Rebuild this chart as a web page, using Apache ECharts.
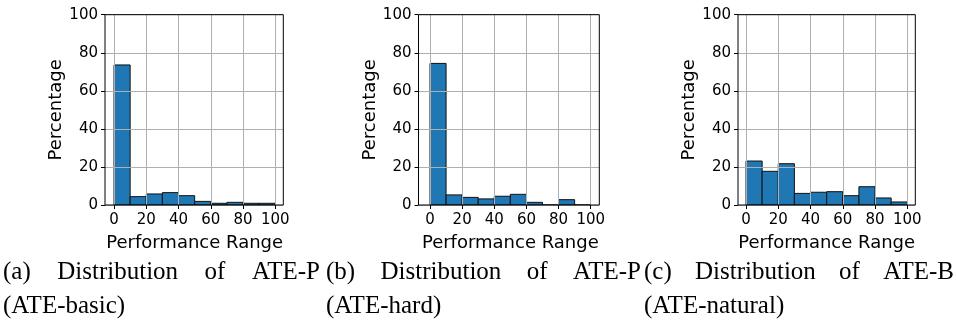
<!DOCTYPE html>
<html>
<head>
<meta charset="utf-8">
<script src="https://cdn.jsdelivr.net/npm/echarts@6/dist/echarts.min.js"></script>
<style>
  html, body { margin: 0; padding: 0; background: #fff; }
  #chart { width: 956px; height: 328px; }
</style>
</head>
<body>
<div id="chart"></div>
<script>
// Histogram bins (performance range, %) and share of samples per bin (%)
const binEdges = [0, 10, 20, 30, 40, 50, 60, 70, 80, 90, 100];
const basicPct = [73.6, 4.4, 5.8, 6.5, 4.9, 1.9, 0.9, 1.4, 0.9, 0.9];
const hardPct = [74.4, 5.3, 4.0, 3.2, 4.6, 5.6, 1.4, 0, 2.8, 0];
const naturalPct = [23.1, 17.7, 21.7, 6.1, 6.7, 7.0, 4.9, 9.6, 3.7, 1.6];

const tickValues = [0, 20, 40, 60, 80, 100];
const xTitle = 'Performance Range';
const yTitle = 'Percentage';

const captions = [
  { head: ['(a)', 'Distribution', 'of', 'ATE-P'], tail: '(ATE-basic)' },
  { head: ['(b)', 'Distribution', 'of', 'ATE-P'], tail: '(ATE-hard)' },
  { head: ['(c)', 'Distribution', 'of', 'ATE-B'], tail: '(ATE-natural)' }
];
const panelData = [basicPct, hardPct, naturalPct];

// Panel layout in pixels: frame edges and the pixel span of data 0..100
const panels = [
  { frameL: 105, frameR: 283.3, dataL: 114, dataR: 275.3, capL: 3, capR: 320 },
  { frameL: 418.5, frameR: 599.3, dataL: 430, dataR: 590.7, capL: 326, capR: 641 },
  { frameL: 738, frameR: 915.3, dataL: 746, dataR: 907.3, capL: 644, capR: 954 }
];
const plotTop = 14.7, plotH = 190.3;

const sansFont = 'DejaVu Sans';
const serifFont = 'Liberation Serif';
const capSize = 25;
const gridColor = '#b0b0b0';
const barColor = '#1f77b4';

const grid = [], xAxis = [], yAxis = [], series = [], graphic = [];

panels.forEach((p, k) => {
  // frame grid: border + y axis with horizontal grid lines
  grid.push({
    left: p.frameL, top: plotTop, width: p.frameR - p.frameL, height: plotH,
    show: true, borderColor: '#000', borderWidth: 1, backgroundColor: 'transparent', z: 10
  });
  // data grid: x from 0 to 100
  grid.push({
    left: p.dataL, top: plotTop, width: p.dataR - p.dataL, height: plotH, show: false
  });
  const gA = 2 * k, gB = 2 * k + 1;

  xAxis.push({ gridIndex: gA, type: 'value', min: 0, max: 1, show: false });
  yAxis.push({
    gridIndex: gA, type: 'value', min: 0, max: 100, interval: 20, z: 3,
    axisLine: { show: false },
    axisTick: { show: true, length: 4, lineStyle: { color: '#000', width: 1 } },
    axisLabel: { fontFamily: sansFont, fontSize: 15, color: '#000', margin: 7 },
    splitLine: { show: true, lineStyle: { color: gridColor, width: 1 } },
    name: yTitle, nameLocation: 'middle', nameGap: 38,
    nameTextStyle: { fontFamily: sansFont, fontSize: 18, color: '#000' }
  });

  xAxis.push({
    gridIndex: gB, type: 'value', min: 0, max: 100, interval: 20, z: 3,
    axisLine: { show: false },
    axisTick: { show: true, length: 4, lineStyle: { color: '#000', width: 1 } },
    axisLabel: { fontFamily: sansFont, fontSize: 15, color: '#000', margin: 8 },
    splitLine: { show: true, lineStyle: { color: gridColor, width: 1 } },
    name: xTitle, nameLocation: 'middle', nameGap: 29,
    nameTextStyle: { fontFamily: sansFont, fontSize: 18, color: '#000' }
  });
  yAxis.push({ gridIndex: gB, type: 'value', min: 0, max: 100, show: false });

  const vals = panelData[k];
  series.push({
    type: 'custom',
    xAxisIndex: 2 * k + 1, yAxisIndex: 2 * k + 1,
    z: 2,
    data: vals.map((v, i) => [binEdges[i], binEdges[i + 1], v]),
    renderItem: function (params, api) {
      const a = api.coord([api.value(0), api.value(2)]);
      const b = api.coord([api.value(1), 0]);
      return {
        type: 'rect',
        shape: { x: a[0], y: a[1], width: b[0] - a[0], height: b[1] - a[1] },
        style: { fill: barColor, stroke: '#111', lineWidth: 1 }
      };
    },
    silent: true
  });
});

// captions: first line justified across its column, second line left aligned
const ctx = document.createElement('canvas').getContext('2d');
ctx.font = capSize + 'px "' + serifFont + '"';
const line1Y = 285, line2Y = 319;
captions.forEach((c, k) => {
  const p = panels[k];
  const widths = c.head.map(w => ctx.measureText(w).width);
  const total = widths.reduce((s, w) => s + w, 0);
  const gap = (p.capR - p.capL - total) / (c.head.length - 1);
  let x = p.capL;
  c.head.forEach((w, i) => {
    graphic.push({
      type: 'text', x: x, y: line1Y, silent: true,
      style: { text: w, fontFamily: serifFont, fontSize: capSize, fill: '#000',
               align: 'left', verticalAlign: 'bottom' }
    });
    x += widths[i] + gap;
  });
  graphic.push({
    type: 'text', x: p.capL, y: line2Y, silent: true,
    style: { text: c.tail, fontFamily: serifFont, fontSize: capSize, fill: '#000',
             align: 'left', verticalAlign: 'bottom' }
  });
});

const chart = echarts.init(document.getElementById('chart'), null, { renderer: 'canvas' });
chart.setOption({
  animation: false,
  backgroundColor: '#fff',
  grid, xAxis, yAxis, series, graphic
});
</script>
</body>
</html>
